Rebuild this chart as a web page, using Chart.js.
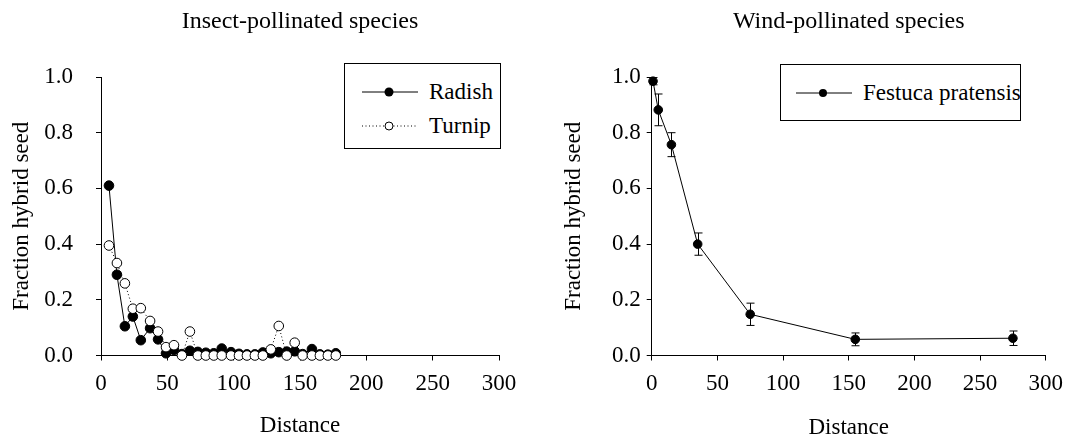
<!DOCTYPE html>
<html>
<head>
<meta charset="utf-8">
<script src="https://cdn.jsdelivr.net/npm/chart.js@4.4.1/dist/chart.umd.min.js"></script>
<style>
  body { margin: 0; background: #fff; }
  #wrap { position: relative; width: 1073px; height: 446px; font-family: "Liberation Serif", "Times New Roman", serif; color: #000; }
  canvas { position: absolute; top: 0; }
  .legend { position: absolute; border: 1px solid #000; background: #fff; box-sizing: border-box; }
  .item { position: absolute; display: flex; align-items: center; font-size: 23px; line-height: 26px; white-space: nowrap; }
  .item svg { margin-right: 11px; }
</style>
</head>
<body>
<div id="wrap">
  <canvas id="insect" width="536" height="446" style="left:0"></canvas>
  <canvas id="wind" width="537" height="446" style="left:536px"></canvas>

  <div class="legend" style="left:344px; top:63px; width:157px; height:86px;">
    <div class="item" style="left:17px; top:15px;">
      <svg width="56" height="12"><line x1="0" y1="6" x2="56" y2="6" stroke="#000" stroke-width="1"/><circle cx="27" cy="6" r="4.5" fill="#000"/></svg>Radish
    </div>
    <div class="item" style="left:17px; top:49px;">
      <svg width="56" height="12"><line x1="0" y1="6" x2="56" y2="6" stroke="#000" stroke-width="1" stroke-dasharray="1,2.5"/><circle cx="27" cy="6" r="4" fill="#fff" stroke="#000" stroke-width="1"/></svg>Turnip
    </div>
  </div>

  <div class="legend" style="left:780px; top:64px; width:241px; height:57px;">
    <div class="item" style="left:15px; top:15px;">
      <svg width="56" height="12"><line x1="0" y1="6" x2="56" y2="6" stroke="#000" stroke-width="1"/><circle cx="27" cy="6" r="4" fill="#000"/></svg>Festuca pratensis
    </div>
  </div>
</div>

<script>
// insect-pollinated: distance and hybrid fraction
const insectDist = [6, 12, 18, 24, 30, 37, 43, 49, 55, 61, 67, 73, 79, 85, 91, 98, 104, 110, 116, 122, 128, 134, 140, 146, 152, 159, 165, 171, 177];
const radish = [0.61, 0.29, 0.105, 0.14, 0.055, 0.098, 0.058, 0.008, 0.02, 0.005, 0.017, 0.013, 0.01, 0.008, 0.025, 0.012, 0.006, 0.004, 0.004, 0.011, 0.008, 0.012, 0.014, 0.015, 0.005, 0.023, 0.004, 0.003, 0.008];
const turnip = [0.395, 0.332, 0.259, 0.168, 0.17, 0.124, 0.086, 0.03, 0.037, 0, 0.086, 0, 0, 0, 0, 0, 0, 0, 0, 0, 0.022, 0.106, 0, 0.046, 0, 0, 0, 0, 0];

// wind-pollinated
const festucaDist = [1, 5, 15, 35, 75, 155, 275];
const festuca = [0.985, 0.882, 0.757, 0.40, 0.148, 0.058, 0.062];
const festucaErr = [0.013, 0.057, 0.043, 0.04, 0.04, 0.023, 0.026];

const xTicks = [0, 50, 100, 150, 200, 250, 300];
const yTicks = [0, 0.2, 0.4, 0.6, 0.8, 1.0];

const FONT = '"Liberation Serif", "Times New Roman", serif';

function pairs(xs, ys) {
  return xs.map((x, i) => ({ x: x, y: ys[i] }));
}

function makeOptions(cfg) {
  return {
    responsive: false,
    animation: false,
    events: [],
    layout: { padding: { top: 0, left: 0, bottom: 0, right: cfg.rightPad } },
    plugins: {
      legend: { display: false },
      tooltip: { enabled: false },
      title: {
        display: true,
        text: cfg.title,
        fullSize: false,
        color: '#000',
        font: { family: FONT, size: 24, weight: 'normal' },
        padding: { top: 7.6, bottom: 40.6 }
      }
    },
    scales: {
      x: {
        type: 'linear',
        min: 0,
        max: 300,
        afterBuildTicks: (s) => { s.ticks = xTicks.map(v => ({ value: v })); },
        afterFit: (s) => { s.height = 90.5; },
        grid: { drawOnChartArea: false, color: '#000', tickLength: 5 },
        border: { color: '#000' },
        ticks: { color: '#000', padding: 10, maxRotation: 0, font: { family: FONT, size: 23 } },
        title: { display: true, text: 'Distance', color: '#000', font: { family: FONT, size: 23 }, padding: { top: 0, bottom: cfg.xTitlePad } }
      },
      y: {
        type: 'linear',
        min: 0,
        max: 1,
        afterBuildTicks: (s) => { s.ticks = yTicks.map(v => ({ value: v })); },
        afterFit: (s) => { s.width = cfg.yWidth; },
        grid: { drawOnChartArea: false, color: '#000', tickLength: 5 },
        border: { color: '#000' },
        ticks: { color: '#000', padding: cfg.yTickPad, font: { family: FONT, size: 23 }, callback: (v) => v.toFixed(1) },
        title: { display: true, text: 'Fraction hybrid seed', color: '#000', font: { family: FONT, size: 23 }, padding: { top: cfg.yTitlePad, bottom: 0 } }
      }
    }
  };
}

new Chart(document.getElementById('insect'), {
  type: 'line',
  data: {
    datasets: [
      {
        label: 'Radish',
        data: pairs(insectDist, radish),
        borderColor: '#000',
        borderWidth: 1,
        pointRadius: 4.8,
        pointBackgroundColor: '#000',
        pointBorderColor: '#000',
        pointBorderWidth: 1,
        tension: 0,
        clip: false,
        order: 1
      },
      {
        label: 'Turnip',
        data: pairs(insectDist, turnip),
        borderColor: '#000',
        borderWidth: 1,
        borderDash: [1, 2.5],
        pointRadius: 4.8,
        pointBackgroundColor: '#fff',
        pointBorderColor: '#000',
        pointBorderWidth: 1,
        tension: 0,
        clip: false,
        order: 0
      }
    ]
  },
  options: makeOptions({ title: 'Insect-pollinated species', rightPad: 37, yWidth: 101, yTickPad: 23, yTitlePad: 8.2, xTitlePad: 6.2 })
});

// error bars for festuca, drawn under the markers
const errorBars = {
  id: 'errorBars',
  beforeDatasetsDraw(chart) {
    const { ctx, scales: { x, y } } = chart;
    ctx.save();
    ctx.strokeStyle = '#000';
    ctx.lineWidth = 1;
    festucaDist.forEach((d, i) => {
      const px = Math.round(x.getPixelForValue(d)) + 0.5;
      const top = y.getPixelForValue(festuca[i] + festucaErr[i]);
      const bot = y.getPixelForValue(festuca[i] - festucaErr[i]);
      ctx.beginPath();
      ctx.moveTo(px, top); ctx.lineTo(px, bot);
      ctx.moveTo(px - 4, top); ctx.lineTo(px + 4, top);
      ctx.moveTo(px - 4, bot); ctx.lineTo(px + 4, bot);
      ctx.stroke();
    });
    ctx.restore();
  }
};

new Chart(document.getElementById('wind'), {
  type: 'line',
  data: {
    datasets: [{
      label: 'Festuca pratensis',
      data: pairs(festucaDist, festuca),
      borderColor: '#000',
      borderWidth: 1,
      pointRadius: 4.3,
      pointBackgroundColor: '#000',
      pointBorderColor: '#000',
      tension: 0,
      clip: false
    }]
  },
  options: makeOptions({ title: 'Wind-pollinated species', rightPad: 21.3, yWidth: 115.7, yTickPad: 6, yTitlePad: 24.2, xTitlePad: 4.2 }),
  plugins: [errorBars]
});
</script>
</body>
</html>
